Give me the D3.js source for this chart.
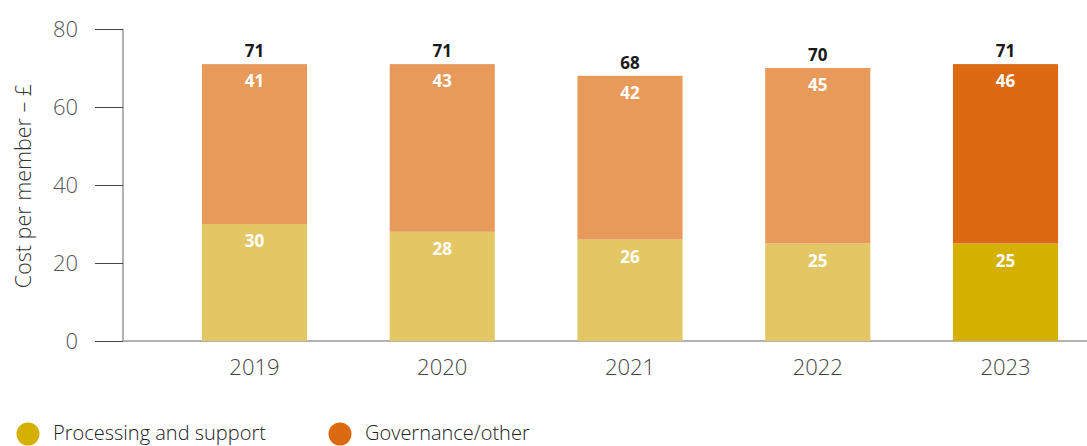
<!DOCTYPE html>
<html lang="en">
<head>
<meta charset="UTF-8">
<title>Cost per member</title>
<script src="https://d3js.org/d3.v7.min.js"></script>
<style>
  body { margin: 0; background: #fff; }
  text { font-family: "Open Sans", sans-serif; }
</style>
</head>
<body>
<div id="chart"></div>
<script>
// data
const years = ["2019", "2020", "2021", "2022", "2023"];
const processing = [30, 28, 26, 25, 25];
const governance = [41, 43, 42, 45, 46];
const totals = [71, 71, 68, 70, 71];
const yTicks = [0, 20, 40, 60, 80];
const seriesNames = ["Processing and support", "Governance/other"];

const width = 1087, height = 446;

// older years lighter, latest year full colour
const paleCol = ["#e3c765", "#e89a5a"];
const fullCol = ["#d4b000", "#dc6a12"];

const svg = d3.select("#chart").append("svg")
  .attr("width", width)
  .attr("height", height);

const y = d3.scaleLinear().domain([0, 80]).range([341, 29]);
const x = d3.scaleBand().domain(years).range([160.6, 1099.4])
  .paddingInner(0.44).paddingOuter(0.22);

// y axis
const yAxis = svg.append("g")
  .attr("transform", "translate(123,0)")
  .call(d3.axisLeft(y).tickValues(yTicks).tickSize(28).tickPadding(17));
yAxis.select(".domain").attr("stroke", "#666").attr("d", `M0,${y(80)}V${y(0)}`);
yAxis.selectAll(".tick line").attr("stroke", "#444");
yAxis.selectAll(".tick text")
  .attr("fill", "#555")
  .attr("font-size", 22)
  .attr("font-weight", 300)
  .attr("font-family", "'Open Sans', sans-serif");

// baseline
svg.append("line")
  .attr("x1", 123).attr("x2", width)
  .attr("y1", y(0)).attr("y2", y(0))
  .attr("stroke", "#999").attr("stroke-width", 1.5);

// x labels
svg.selectAll(".xl").data(years).enter().append("text")
  .attr("class", "xl")
  .attr("x", d => x(d) + x.bandwidth() / 2)
  .attr("y", 375)
  .attr("text-anchor", "middle")
  .attr("font-size", 22)
  .attr("font-weight", 300)
  .attr("fill", "#444")
  .text(d => d);

// y title
svg.append("text")
  .attr("transform", "translate(31,186) rotate(-90)")
  .attr("text-anchor", "middle")
  .attr("font-size", 21.5)
  .attr("font-weight", 300)
  .attr("fill", "#333")
  .text("Cost per member – £");

const last = years.length - 1;

// processing segments
svg.selectAll(".proc").data(years).enter().append("rect")
  .attr("x", d => x(d))
  .attr("width", x.bandwidth())
  .attr("y", (d, i) => y(processing[i]))
  .attr("height", (d, i) => y(0) - y(processing[i]))
  .attr("fill", (d, i) => i == last ? fullCol[0] : paleCol[0]);

// governance segments
svg.selectAll(".gov").data(years).enter().append("rect")
  .attr("x", d => x(d))
  .attr("width", x.bandwidth())
  .attr("y", (d, i) => y(processing[i] + governance[i]))
  .attr("height", (d, i) => y(processing[i]) - y(processing[i] + governance[i]))
  .attr("fill", (d, i) => i == last ? fullCol[1] : paleCol[1]);

// inner labels
const inner = (vals, base) => svg.selectAll(null).data(years).enter().append("text")
  .attr("x", d => x(d) + x.bandwidth() / 2)
  .attr("y", (d, i) => y(base[i] + vals[i]) + 23)
  .attr("text-anchor", "middle")
  .attr("font-size", 17)
  .attr("font-weight", 700)
  .attr("fill", "#fff")
  .text((d, i) => vals[i]);
inner(processing, years.map(() => 0));
inner(governance, processing);

// totals
svg.selectAll(".tot").data(years).enter().append("text")
  .attr("x", d => x(d) + x.bandwidth() / 2)
  .attr("y", (d, i) => y(totals[i]) - 7)
  .attr("text-anchor", "middle")
  .attr("font-size", 17)
  .attr("font-weight", 700)
  .attr("fill", "#1a1a1a")
  .text((d, i) => totals[i]);

// legend
const legX = [28, 340];
seriesNames.forEach((name, i) => {
  svg.append("circle")
    .attr("cx", legX[i]).attr("cy", 434).attr("r", 11.5)
    .attr("fill", fullCol[i]);
  svg.append("text")
    .attr("x", legX[i] + 25).attr("y", 440)
    .attr("font-size", 20)
    .attr("font-weight", 300)
    .attr("fill", "#222")
    .text(name);
});
</script>
</body>
</html>
